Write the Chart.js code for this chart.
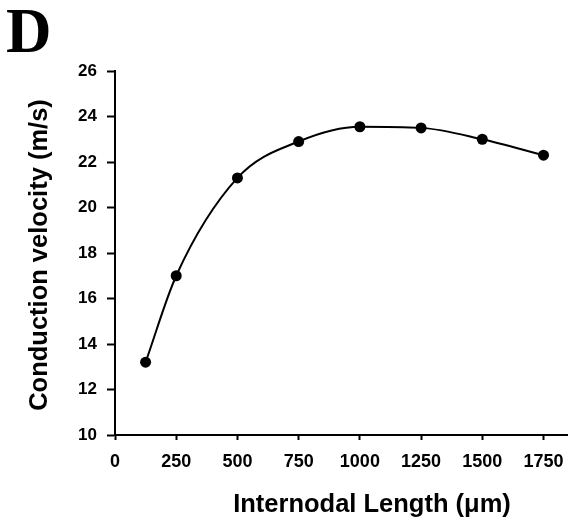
<!DOCTYPE html>
<html><head><meta charset="utf-8">
<script src="https://cdn.jsdelivr.net/npm/chart.js@4"></script>
<style>html,body{margin:0;padding:0;background:#fff;overflow:hidden}#wrap{width:568px;height:525px;position:relative}</style>
</head><body><div id="wrap"><canvas id="c"></canvas></div>
<script>
const panelLabel = 'D';
const xTitle = 'Internodal Length (\u03bcm)';
const yTitle = 'Conduction velocity (m/s)';
const internodalLength = [125, 250, 500, 750, 1000, 1250, 1500, 1750];
const conductionVelocity = [13.2, 17.0, 21.3, 22.9, 23.55, 23.5, 23.0, 22.3];
const xTickValues = [0, 250, 500, 750, 1000, 1250, 1500, 1750];
const yTickValues = [10, 12, 14, 16, 18, 20, 22, 24, 26];

const points = internodalLength.map((x, i) => ({x: x, y: conductionVelocity[i]}));

const textPlugin = {
  id: 'texts',
  afterDraw(chart) {
    const ctx = chart.ctx;
    const ca = chart.chartArea;
    ctx.save();
    ctx.fillStyle = '#000';
    ctx.font = 'bold 63px "Liberation Serif", "Times New Roman", serif';
    ctx.textAlign = 'left';
    ctx.textBaseline = 'alphabetic';
    ctx.fillText(panelLabel, 6, 52);
    ctx.font = 'bold 25.5px "Liberation Sans", Arial, sans-serif';
    ctx.textAlign = 'center';
    ctx.fillText(xTitle, 372, 512);
    ctx.translate(47, (ca.top + ca.bottom) / 2 + 2);
    ctx.rotate(-Math.PI / 2);
    ctx.fillText(yTitle, 0, 0);
    ctx.restore();
  }
};

new Chart(document.getElementById('c'), {
  type: 'line',
  data: {
    datasets: [{
      data: points,
      borderColor: '#000',
      backgroundColor: '#000',
      borderWidth: 2,
      pointRadius: 5.5,
      pointHoverRadius: 5.5,
      pointBackgroundColor: '#000',
      pointBorderWidth: 0,
      cubicInterpolationMode: 'monotone',
      fill: false
    }]
  },
  options: {
    responsive: true,
    maintainAspectRatio: false,
    animation: false,
    events: [],
    layout: {autoPadding: false, padding: {top: 71, right: 0, left: 0, bottom: 0}},
    plugins: {legend: {display: false}, tooltip: {enabled: false}},
    scales: {
      x: {
        type: 'linear',
        min: 0,
        max: 1850,
        afterBuildTicks(scale) { scale.ticks = xTickValues.map(v => ({value: v})); },
        afterFit(scale) { scale.height = 90; scale.paddingRight = 0; scale.paddingLeft = 0; },
        ticks: {
          color: '#000',
          font: {family: '"Liberation Sans", Arial, sans-serif', size: 18, weight: 'bold'},
          padding: 11,
          maxRotation: 0,
          autoSkip: false,
          callback: (v) => String(v)
        },
        grid: {drawOnChartArea: false, drawTicks: true, tickLength: 5, tickColor: '#000', tickWidth: 2},
        border: {display: true, color: '#000', width: 2}
      },
      y: {
        type: 'linear',
        min: 10,
        max: 26,
        afterBuildTicks(scale) { scale.ticks = yTickValues.map(v => ({value: v})); },
        afterFit(scale) { scale.width = 115; },
        ticks: {
          color: '#000',
          font: {family: '"Liberation Sans", Arial, sans-serif', size: 17, weight: 'bold'},
          padding: 10,
          autoSkip: false,
          callback: (v) => String(v)
        },
        grid: {drawOnChartArea: false, drawTicks: true, tickLength: 8, tickColor: '#000', tickWidth: 2},
        border: {display: true, color: '#000', width: 2}
      }
    }
  },
  plugins: [textPlugin]
});
</script></body></html>
